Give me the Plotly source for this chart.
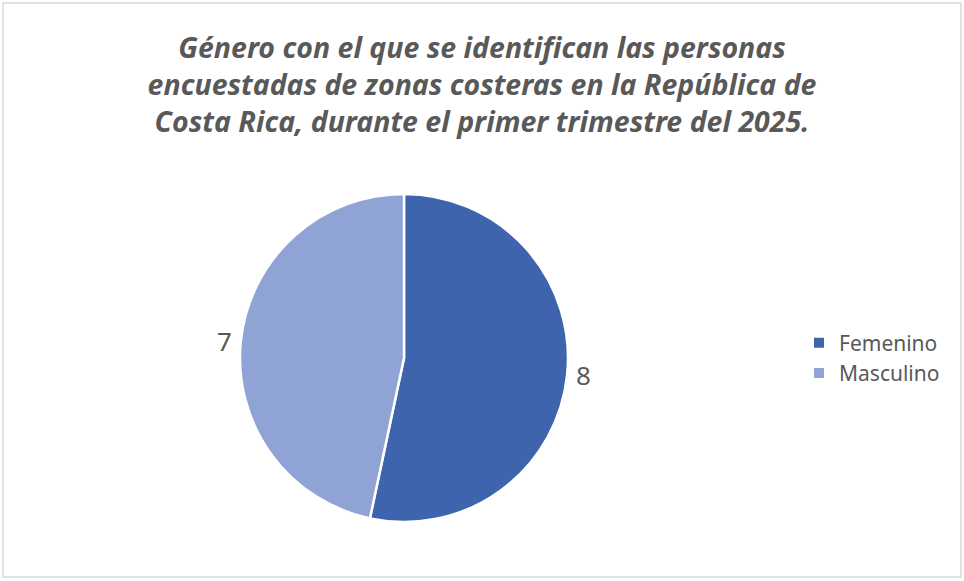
import plotly.graph_objects as go

# Datos
generos = ["Femenino", "Masculino"]
personas = [8, 7]
colores = ["#3E64AE", "#8FA3D5"]

titulo = (
    "<b><i>Género con el que se identifican las personas<br>"
    "encuestadas de zonas costeras en la República de<br>"
    "Costa Rica, durante el primer trimestre del 2025.</i></b>"
)

W, H = 964, 581

fig = go.Figure(
    go.Pie(
        labels=generos,
        values=personas,
        sort=False,
        direction="clockwise",
        rotation=0,
        marker=dict(colors=colores, line=dict(color="#FFFFFF", width=2.5)),
        textinfo="value",
        textposition="outside",
        textfont=dict(size=26, color="#595959"),
        domain=dict(x=[240 / W, 568 / W], y=[1 - 522 / H, 1 - 194 / H]),
        showlegend=True,
    )
)

# marco del gráfico
fig.add_shape(
    type="rect",
    xref="paper",
    yref="paper",
    x0=3 / W,
    x1=961 / W,
    y0=1 - 577 / H,
    y1=1 - 3 / H,
    line=dict(color="#D9D9D9", width=1.5),
    fillcolor="rgba(0,0,0,0)",
)

fig.update_layout(
    width=W,
    height=H,
    margin=dict(l=0, r=0, t=0, b=0),
    paper_bgcolor="#FFFFFF",
    font=dict(family="Noto Sans, DejaVu Sans, sans-serif", color="#595959"),
    title=dict(
        text=titulo,
        x=0.5,
        xanchor="center",
        y=1 - 58 / H,
        yanchor="top",
        font=dict(size=28.5, color="#595959"),
    ),
    legend=dict(
        x=799 / W,
        y=1 - 358 / H,
        xanchor="left",
        yanchor="middle",
        font=dict(size=21, color="#595959"),
        itemsizing="constant",
    ),
)

fig.write_html(
    "out.html",
    config={"displayModeBar": False},
    post_script="document.body.style.margin='0';",
)
